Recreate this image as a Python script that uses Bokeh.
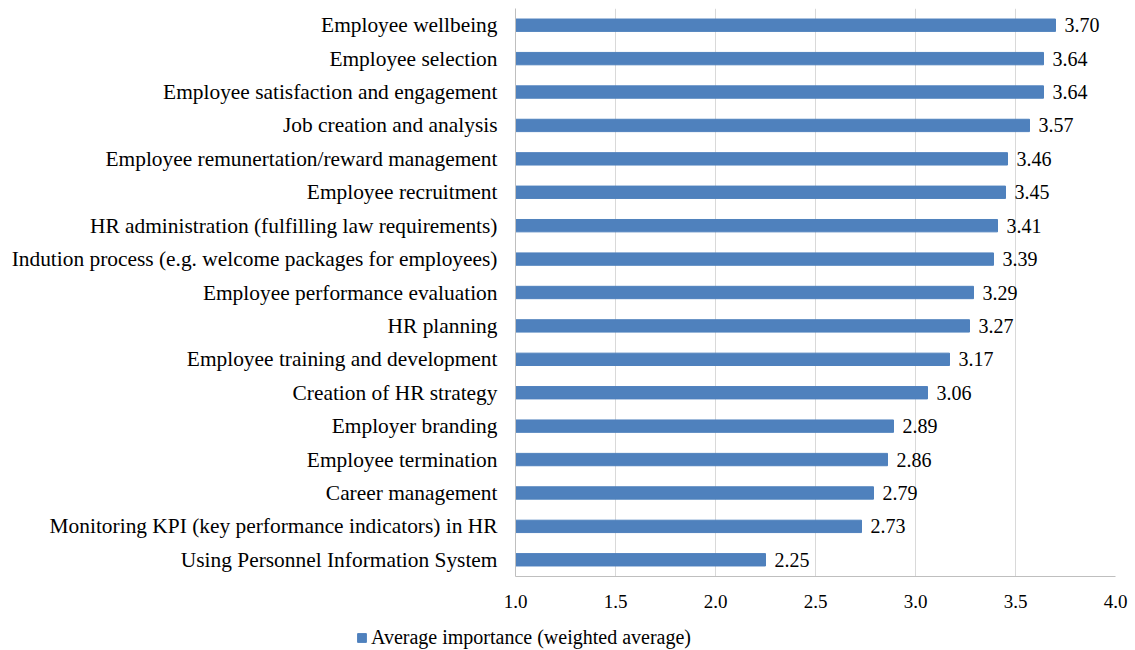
from bokeh.plotting import figure
from bokeh.layouts import column
from bokeh.models import (ColumnDataSource, FactorRange, Range1d, Legend, LegendItem,
                          FixedTicker, NumeralTickFormatter)
from bokeh.core.properties import value
from bokeh.embed import file_html
from bokeh.resources import INLINE

categories = [
    "Employee wellbeing",
    "Employee selection",
    "Employee satisfaction and engagement",
    "Job creation and analysis",
    "Employee remunertation/reward management",
    "Employee recruitment",
    "HR administration (fulfilling law requirements)",
    "Indution process (e.g. welcome packages for employees)",
    "Employee performance evaluation",
    "HR planning",
    "Employee training and development",
    "Creation of HR strategy",
    "Employer branding",
    "Employee termination",
    "Career management",
    "Monitoring KPI (key performance indicators) in HR",
    "Using Personnel Information System",
]
scores = [3.70, 3.64, 3.64, 3.57, 3.46, 3.45, 3.41, 3.39, 3.29, 3.27,
          3.17, 3.06, 2.89, 2.86, 2.79, 2.73, 2.25]
x_ticks = [1.0, 1.5, 2.0, 2.5, 3.0, 3.5, 4.0]
series_name = "Average importance (weighted average)"

FONT = "Liberation Serif"
BAR = "#4f81bd"

src = ColumnDataSource(dict(cat=categories, score=scores,
                            label=[f"{v:.2f}" for v in scores]))

p = figure(width=1135, height=615,
           y_range=FactorRange(factors=categories[::-1]),
           x_range=Range1d(x_ticks[0], x_ticks[-1]),
           output_backend="svg", toolbar_location=None,
           min_border_left=515, min_border_right=20,
           min_border_top=8, min_border_bottom=39)
p.frame_align = False

bars = p.hbar(y="cat", left=x_ticks[0], right="score", height=0.37, source=src,
              fill_color=BAR, line_color=BAR, line_width=1)

p.text(x="score", y="cat", text="label", source=src, x_offset=9,
       text_font=value(FONT), text_font_size="20px", text_color="#000000",
       text_align="left", text_baseline="middle")

p.outline_line_color = None
p.ygrid.grid_line_color = None
p.xgrid.ticker = FixedTicker(ticks=x_ticks)
p.xgrid.grid_line_color = "#d9d9d9"
p.xgrid.grid_line_width = 1

p.xaxis.ticker = FixedTicker(ticks=x_ticks)
p.xaxis.formatter = NumeralTickFormatter(format="0.0")
p.xaxis.axis_line_color = "#bfbfbf"
p.xaxis.major_tick_line_color = None
p.xaxis.minor_tick_line_color = None
p.xaxis.major_label_standoff = 12
p.xaxis.major_label_text_font = FONT
p.xaxis.major_label_text_font_size = "19px"
p.xaxis.major_label_text_color = "#000000"

p.yaxis.axis_line_color = "#bfbfbf"
p.yaxis.major_tick_line_color = None
p.yaxis.minor_tick_line_color = None
p.yaxis.major_tick_out = 0
p.yaxis.major_label_standoff = 18
p.yaxis.major_label_text_font = FONT
p.yaxis.major_label_text_font_size = "21.4px"
p.yaxis.major_label_text_color = "#000000"

# legend strip below the chart (its own frame spans the full width)
lg = figure(width=1135, height=35, output_backend="svg", toolbar_location=None,
            x_axis_type=None, y_axis_type=None,
            min_border_left=0, min_border_right=0, min_border_top=0, min_border_bottom=0)
lg.frame_align = False
lg.outline_line_color = None
lg.grid.grid_line_color = None
swatch = lg.hbar(y="score", left=x_ticks[0], right="score", height=0.37, source=src,
                 fill_color=BAR, line_color=BAR, line_width=1, visible=False)
legend = Legend(items=[LegendItem(label=series_name, renderers=[swatch])],
                location=(356, 1), orientation="horizontal",
                glyph_width=11, glyph_height=11, label_height=20,
                label_standoff=4, padding=0, margin=0, spacing=0,
                label_text_font=FONT, label_text_font_size="20px",
                label_text_color="#000000",
                inactive_fill_alpha=0,
                border_line_color=None, background_fill_alpha=0)
lg.add_layout(legend)

page = column(p, lg, spacing=0)
open("out.html", "w").write(file_html(page, INLINE))
